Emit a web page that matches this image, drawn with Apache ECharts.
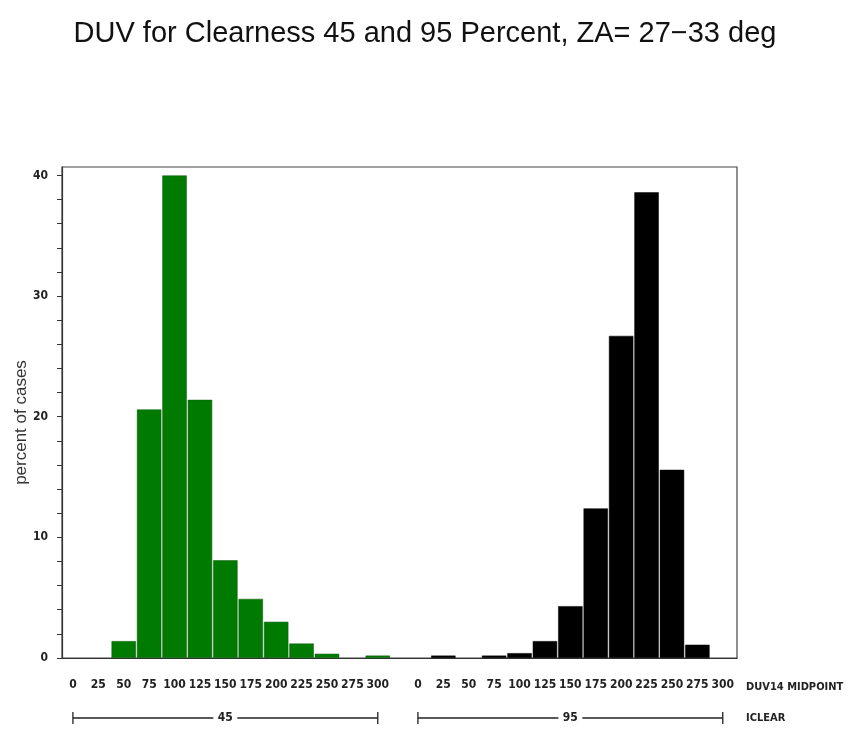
<!DOCTYPE html>
<html>
<head>
<meta charset="utf-8">
<script src="https://cdn.jsdelivr.net/npm/echarts@6/dist/echarts.min.js"></script>
<style>html,body{margin:0;padding:0;background:#fff}#c{width:850px;height:729px}</style>
</head>
<body>
<div id="c"></div>
<script>
// ---- data ----
const midpoints = ['0','25','50','75','100','125','150','175','200','225','250','275','300'];
const clearGroups = ['45','95'];
const pct45 = [0, 0, 1.4, 20.6, 40.0, 21.4, 8.1, 4.9, 3.0, 1.2, 0.35, 0, 0.2];
const pct95 = [0, 0.2, 0, 0.2, 0.4, 1.4, 4.3, 12.4, 26.7, 38.6, 15.6, 1.1, 0];
const yLabels = [0, 10, 20, 30, 40];
const titleText = 'DUV for Clearness 45 and 95 Percent, ZA= 27\u221233 deg';
const yName = 'percent of cases';
const xName = 'DUV14 MIDPOINT';
const groupName = 'ICLEAR';

// ---- layout ----
const GROUP_SHIFT = 13.58;
const narrow = "'Liberation Sans Narrow', 'DejaVu Sans Condensed', sans-serif";
const positions = [];
const labelMap = {};
[0, 1].forEach(g => midpoints.forEach((m, i) => {
  const p = +(i + g * GROUP_SHIFT).toFixed(2);
  positions.push(p);
  labelMap[p.toFixed(2)] = m;
}));
// zero-percent bins have no bar
const toData = (arr, g) => arr.map((v, i) => [+(i + g * GROUP_SHIFT).toFixed(2), v]).filter(d => d[1] > 0);
const yTicks = [];
for (let v = 0; v <= 40; v += 2) yTicks.push(v);

const chart = echarts.init(document.getElementById('c'), null, {renderer: 'canvas'});
chart.setOption({
  animation: false,
  backgroundColor: '#fff',
  title: {
    text: titleText, left: 'center', top: 14,
    textStyle: {fontFamily: "'Liberation Sans', Arial, sans-serif", fontSize: 29, fontWeight: 'normal', color: '#111'}
  },
  grid: {left: 62, top: 167, right: 113, bottom: 71, outerBoundsMode: 'none', containLabel: false,
    show: true, borderColor: '#444', borderWidth: 1.2, backgroundColor: '#fff'},
  xAxis: {
    type: 'value', min: -0.43, max: 26.14,
    splitLine: {show: false},
    axisLine: {show: true, onZero: false, lineStyle: {color: '#333', width: 1.2}},
    axisTick: {show: false},
    axisLabel: {
      customValues: positions, margin: 21,
      fontFamily: narrow, fontWeight: 'bold', fontSize: 12, color: '#222',
      formatter: v => labelMap[(+v).toFixed(2)] || ''
    }
  },
  yAxis: {
    type: 'value', min: 0, max: 40.7,
    name: yName, nameLocation: 'middle', nameGap: 32, nameMoveOverlap: false,
    nameTextStyle: {fontFamily: "'Liberation Sans', Arial, sans-serif", fontSize: 17, color: '#333', padding: [0, 0, 0, -20]},
    splitLine: {show: false},
    axisLine: {show: true, onZero: false, lineStyle: {color: '#333', width: 1.2}},
    axisTick: {show: true, customValues: yTicks, length: 5, lineStyle: {color: '#333'}},
    axisLabel: {customValues: yLabels, margin: 14, fontFamily: narrow, fontWeight: 'bold', fontSize: 12, color: '#222'}
  },
  series: [
    {type: 'bar', name: clearGroups[0], data: toData(pct45, 0), barWidth: 24.4,
     itemStyle: {color: '#007a00', borderColor: '#0a5a0a', borderWidth: 0.5}},
    {type: 'bar', name: clearGroups[1], data: toData(pct95, 1), barWidth: 24.4, barGap: '-100%',
     itemStyle: {color: '#000', borderColor: '#000', borderWidth: 0.5}}
  ]
});

// group brackets and axis names, placed from the axis scale
const graphics = [];
const yB = 718;
clearGroups.forEach((g, gi) => {
  const x0 = chart.convertToPixel({xAxisIndex: 0}, gi * GROUP_SHIFT);
  const x1 = chart.convertToPixel({xAxisIndex: 0}, 12 + gi * GROUP_SHIFT);
  const xm = (x0 + x1) / 2;
  const half = 12;
  const ls = {stroke: '#222', lineWidth: 1.3};
  graphics.push({type: 'line', shape: {x1: x0, y1: yB, x2: xm - half, y2: yB}, style: ls});
  graphics.push({type: 'line', shape: {x1: xm + half, y1: yB, x2: x1, y2: yB}, style: ls});
  graphics.push({type: 'line', shape: {x1: x0, y1: yB - 6, x2: x0, y2: yB + 6}, style: ls});
  graphics.push({type: 'line', shape: {x1: x1, y1: yB - 6, x2: x1, y2: yB + 6}, style: ls});
  graphics.push({type: 'text', x: xm, y: yB, style: {text: g, align: 'center', verticalAlign: 'middle',
    font: "bold 12px " + narrow, fill: '#222'}});
});
graphics.push({type: 'text', x: 746, y: 687, style: {text: xName, align: 'left', verticalAlign: 'middle',
  font: "bold 11px " + narrow, fill: '#222'}});
graphics.push({type: 'text', x: 746, y: yB, style: {text: groupName, align: 'left', verticalAlign: 'middle',
  font: "bold 11px " + narrow, fill: '#222'}});
chart.setOption({graphic: graphics});
</script>
</body>
</html>
